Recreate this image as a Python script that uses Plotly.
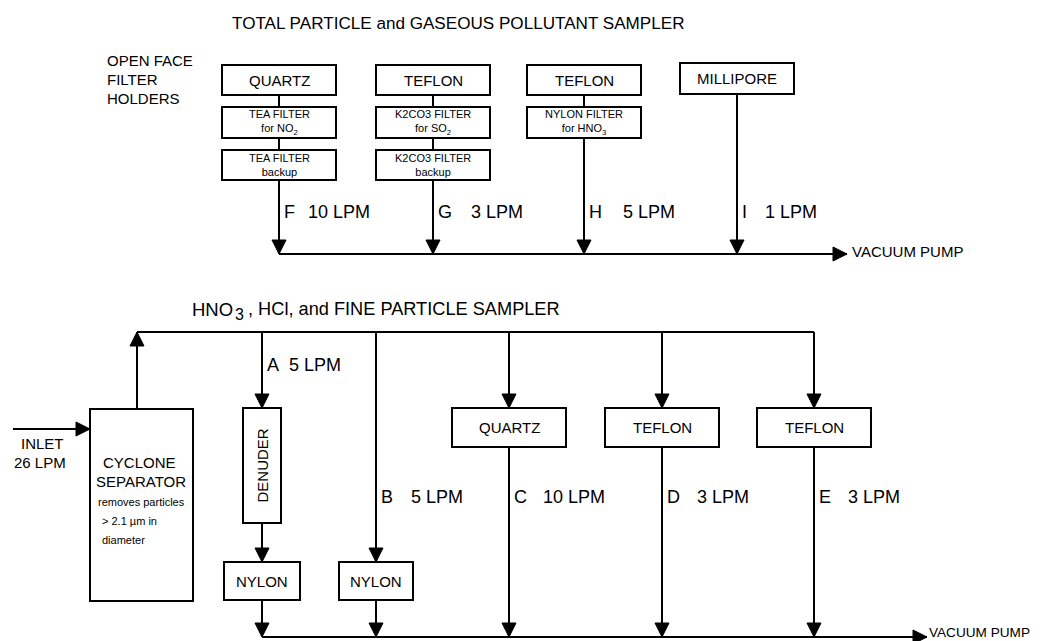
import plotly.graph_objects as go

# ---------------- data (text content and flow rates) ----------------
top_title = "TOTAL PARTICLE and GASEOUS POLLUTANT SAMPLER"
bottom_title_parts = ["HNO", "3", ", HCl, and FINE PARTICLE SAMPLER"]
holder_label = ["OPEN FACE", "FILTER", "HOLDERS"]

top_channels = ["F", "G", "H", "I"]
top_flows = [10, 3, 5, 1]
top_stacks = [
    ["QUARTZ", "TEA FILTER<br>for NO<sub>2</sub>", "TEA FILTER<br>backup"],
    ["TEFLON", "K2CO3 FILTER<br>for SO<sub>2</sub>", "K2CO3 FILTER<br>backup"],
    ["TEFLON", "NYLON FILTER<br>for HNO<sub>3</sub>"],
    ["MILLIPORE"],
]

bottom_channels = ["A", "B", "C", "D", "E"]
bottom_flows = [5, 5, 10, 3, 3]
bottom_filters = ["NYLON", "NYLON", "QUARTZ", "TEFLON", "TEFLON"]
denuder_label = "DENUDER"
inlet_flow = 26
cyclone_label = ["CYCLONE", "SEPARATOR"]
cyclone_note = ["removes particles", "> 2.1 \u00b5m in", "diameter"]
pump_label = "VACUUM PUMP"

# ---------------- layout (positions, sizes, styles) ----------------
W, H = 1042, 641
OFF = 8  # page body margin, so that data units equal page pixels
FONT = "Liberation Sans, Arial, Helvetica, sans-serif"
LW = 2
AH = 14  # arrowhead length
AW = 7   # arrowhead half width

top_x = [279, 433, 584, 737]
top_box_half = 57
top_box_y = [(65, 95), (107, 138), (150, 180)]
top_bus_y = 254
top_bus_end = 847
top_flow_y = 212
top_rate_dx = [28, 37, 38, 27]

bot_x = [262, 376, 509, 662, 814]
bus_top_y = 332
bus_bot_y = 637
bus_bot_end = 927
cyc = (90, 409, 193, 601)
cyc_out_x = 137
inlet_y = 429
den_box = (243, 408, 281, 523)
nylon_y = (562, 600)
upper_box_y = (408, 447)
bot_box_half = [38, 37, 57, 57, 57]
bot_rate_dx = [26, 34, 33, 34, 33]
bot_flow_y = [365, 497, 497, 497, 497]

shapes = []
annotations = []


def line(x0, y0, x1, y1):
    shapes.append(dict(type="line", x0=x0, y0=y0, x1=x1, y1=y1, xref="x", yref="y",
                       line=dict(color="black", width=LW)))


def rect(x0, y0, x1, y1):
    shapes.append(dict(type="rect", x0=x0, y0=y0, x1=x1, y1=y1, xref="x", yref="y",
                       line=dict(color="black", width=LW), fillcolor="white"))


def head(x, y, d):
    if d == "down":
        p = f"M {x-AW},{y-AH} L {x+AW},{y-AH} L {x},{y} Z"
    elif d == "up":
        p = f"M {x-AW},{y+AH} L {x+AW},{y+AH} L {x},{y} Z"
    else:
        p = f"M {x-AH},{y-AW} L {x-AH},{y+AW} L {x},{y} Z"
    shapes.append(dict(type="path", path=p, xref="x", yref="y", fillcolor="black",
                       line=dict(color="black", width=1)))


def arrow(x0, y0, x1, y1, d):
    line(x0, y0, x1, y1)
    head(x1, y1, d)


def text(x, y, s, size, xa="left", angle=0, ya="middle"):
    annotations.append(dict(x=x, y=y, xref="x", yref="y", text=s, showarrow=False,
                            xanchor=xa, yanchor=ya, textangle=angle, borderpad=0,
                            font=dict(family=FONT, size=size, color="black")))


# ---------- top sampler ----------
text(231, 23, top_title, 17.1)
for i, s in enumerate(holder_label):
    text(106, 60 + i * 19, s, 15)

for cx, stack, ch, fl, rdx in zip(top_x, top_stacks, top_channels, top_flows, top_rate_dx):
    for j, lab in enumerate(stack):
        y0, y1 = top_box_y[j]
        if ch == "I":
            y0, y1 = y0 - 2, y1 - 1
        rect(cx - top_box_half, y0, cx + top_box_half, y1)
        text(cx, (y0 + y1) / 2, lab, 15 if j == 0 else 11, xa="center")
        if j > 0:
            line(cx, top_box_y[j - 1][1], cx, y0)
    last = top_box_y[len(stack) - 1][1] - (1 if ch == "I" else 0)
    arrow(cx, last, cx, top_bus_y, "down")
    text(cx + 4, top_flow_y, ch, 18)
    text(cx + rdx, top_flow_y, f"{fl} LPM", 18)

arrow(top_x[0], top_bus_y, top_bus_end, top_bus_y, "right")
text(top_bus_end + 4, top_bus_y - 3, pump_label, 15)

# ---------- bottom sampler ----------
text(191, 309, bottom_title_parts[0], 18.5)
text(234, 314, bottom_title_parts[1], 16)
text(247, 309, bottom_title_parts[2], 18.2)

# inlet and cyclone
arrow(13, inlet_y, cyc[0], inlet_y, "right")
text(42, 443, "INLET", 15, xa="center")
text(40, 462, f"{inlet_flow} LPM", 15, xa="center")
rect(*cyc)
text(139, 462, cyclone_label[0], 15, xa="center")
text(141, 481, cyclone_label[1], 15, xa="center")
text(97, 502, cyclone_note[0], 11)
text(101, 521, cyclone_note[1], 11)
text(101, 540, cyclone_note[2], 11)
arrow(cyc_out_x, cyc[1], cyc_out_x, bus_top_y, "up")
line(cyc_out_x, bus_top_y, bot_x[-1], bus_top_y)

for k, (cx, ch, fl, filt, hw, rdx, fy) in enumerate(
        zip(bot_x, bottom_channels, bottom_flows, bottom_filters, bot_box_half, bot_rate_dx, bot_flow_y)):
    if k == 0:
        arrow(cx, bus_top_y, cx, den_box[1], "down")
        rect(*den_box)
        text(cx, (den_box[1] + den_box[3]) / 2, denuder_label, 15, xa="center", angle=-90)
        arrow(cx, den_box[3], cx, nylon_y[0], "down")
        y0, y1 = nylon_y
    elif k == 1:
        arrow(cx, bus_top_y, cx, nylon_y[0], "down")
        y0, y1 = nylon_y
    else:
        arrow(cx, bus_top_y, cx, upper_box_y[0], "down")
        y0, y1 = upper_box_y
    rect(cx - hw, y0, cx + hw, y1)
    text(cx, (y0 + y1) / 2, filt, 15, xa="center")
    arrow(cx, y1, cx, bus_bot_y, "down")
    text(cx + 4, fy, ch, 18)
    text(cx + rdx, fy, f"{fl} LPM", 18)

arrow(bot_x[0], bus_bot_y, bus_bot_end, bus_bot_y, "right")
text(bus_bot_end + 1, bus_bot_y - 5, pump_label, 13.6)

fig = go.Figure()
fig.update_layout(
    width=W, height=H,
    margin=dict(l=0, r=0, t=0, b=0),
    paper_bgcolor="white", plot_bgcolor="white",
    xaxis=dict(range=[OFF, W + OFF], visible=False, fixedrange=True),
    yaxis=dict(range=[H + OFF, OFF], visible=False, fixedrange=True),
    shapes=shapes, annotations=annotations, showlegend=False,
)
fig.write_html("out.html")
